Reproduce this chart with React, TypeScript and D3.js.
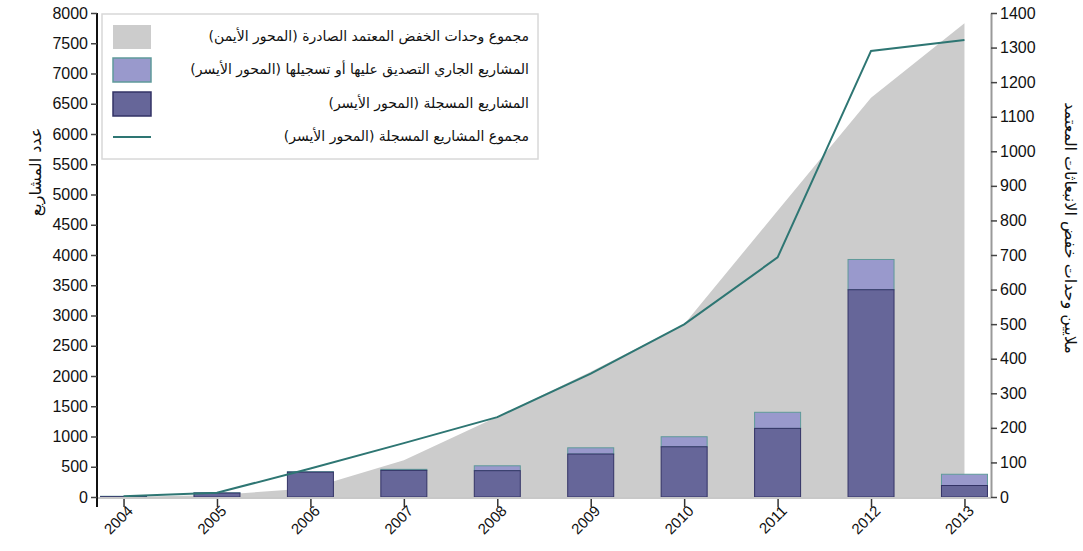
import * as d3 from "d3";
import React, { useEffect, useRef } from "react";

// years on the x axis
const years = ["2004", "2005", "2006", "2007", "2008", "2009", "2010", "2011", "2012", "2013"];
// registered projects per year (left axis)
const registered = [5, 65, 410, 440, 435, 710, 830, 1134, 3426, 190];
// projects under validation / registration (left axis, stacked on top)
const pending = [7, 5, 10, 17, 81, 103, 166, 266, 500, 186];
// cumulative registered projects (left axis)
const cumulative = [12, 70, 470, 890, 1320, 2040, 2854, 3960, 7373, 7555];
// cumulative CERs issued, millions (right axis)
const cersIssued = [0, 6, 25, 106, 232, 362, 500, 828, 1155, 1370];

const leftTicks = d3.range(0, 8001, 500);
const rightTicks = d3.range(0, 1401, 100);

const legendLabels = [
  "مجموع وحدات الخفض المعتمد الصادرة (المحور الأيمن)",
  "المشاريع الجاري التصديق عليها أو تسجيلها (المحور الأيسر)",
  "المشاريع المسجلة (المحور الأيسر)",
  "مجموع المشاريع المسجلة (المحور الأيسر)",
];
const leftTitle = "عدد المشاريع";
const rightTitle = "ملايين وحدات خفض الانبعاثات المعتمد";

const App: React.FC = () => {
  const chartRef = useRef<HTMLDivElement>(null);

  useEffect(() => {
    if (!chartRef.current) return;
    d3.select(chartRef.current).selectAll("*").remove();

    const width = 1083,
      height = 551;
    const left = 97,
      right = 991,
      top = 13,
      bottom = 497;
    const numFont = "'Liberation Sans', Arial, sans-serif";
    const arFont = "'DejaVu Sans', sans-serif";

    const svg = d3
      .select(chartRef.current)
      .append("svg")
      .attr("width", width)
      .attr("height", height)
      .style("position", "absolute")
      .style("left", 0)
      .style("top", 0);

    const x = d3.scalePoint<string>().domain(years).range([left, right]).padding(0.284);
    const yL = d3.scaleLinear().domain([0, 8000]).range([bottom, top]);
    const yR = d3.scaleLinear().domain([0, 1400]).range([bottom, top]);
    const barW = 46;

    // gray area: CERs issued (right axis)
    const area = d3
      .area<number>()
      .x((_, i) => x(years[i])!)
      .y0(yR(0))
      .y1((d) => yR(d));
    svg.append("path").datum(cersIssued).attr("d", area).attr("fill", "#cccccc");

    // stacked bars
    const bars = svg
      .append("g")
      .selectAll("g")
      .data(years)
      .enter()
      .append("g")
      .attr("transform", (d) => `translate(${x(d)! - barW / 2},0)`);

    bars
      .append("rect")
      .attr("x", 0)
      .attr("width", barW)
      .attr("y", (_, i) => yL(registered[i] + pending[i]))
      .attr("height", (_, i) => yL(registered[i]) - yL(registered[i] + pending[i]))
      .attr("fill", "#9999cc")
      .attr("stroke", "#5f9a9a")
      .attr("stroke-width", 1);

    bars
      .append("rect")
      .attr("x", 0)
      .attr("width", barW)
      .attr("y", (_, i) => yL(registered[i]))
      .attr("height", (_, i) => yL(0) - yL(registered[i]))
      .attr("fill", "#666699")
      .attr("stroke", "#333366")
      .attr("stroke-width", 1);

    // cumulative line
    const line = d3
      .line<number>()
      .x((_, i) => x(years[i])!)
      .y((d) => yL(d));
    svg
      .append("path")
      .datum(cumulative)
      .attr("d", line)
      .attr("fill", "none")
      .attr("stroke", "#2e7673")
      .attr("stroke-width", 2);

    // x axis
    svg
      .append("line")
      .attr("x1", left)
      .attr("x2", right)
      .attr("y1", bottom + 1)
      .attr("y2", bottom + 1)
      .attr("stroke", "#c8c8c8")
      .attr("stroke-width", 2);
    const xAxis = svg
      .append("g")
      .attr("transform", `translate(0,${bottom + 2})`)
      .call(d3.axisBottom(x).tickSize(8));
    xAxis.select(".domain").remove();
    xAxis.selectAll(".tick line").attr("stroke", "#333").attr("stroke-width", 1.5);
    xAxis
      .selectAll(".tick text")
      .attr("font-family", numFont)
      .attr("font-size", 15)
      .attr("fill", "#111")
      .attr("text-anchor", "end")
      .attr("transform", "rotate(-45)")
      .attr("dx", 0)
      .attr("dy", "0.6em")
      .attr("y", 7)
      .attr("x", -2);

    // left axis
    const yAxisL = svg
      .append("g")
      .attr("transform", `translate(${left},0)`)
      .call(
        d3
          .axisLeft(yL)
          .tickValues(leftTicks)
          .tickFormat(d3.format("d"))
          .tickSize(6)
          .tickPadding(3)
          .tickSizeOuter(0)
      );
    yAxisL.select(".domain").attr("stroke", "#111").attr("stroke-width", 2).attr("d", `M0,${top}V${bottom + 10}`);
    yAxisL.selectAll(".tick line").attr("stroke", "#444").attr("stroke-width", 1.5);
    yAxisL
      .selectAll(".tick text")
      .attr("font-family", numFont)
      .attr("font-size", 16)
      .attr("fill", "#111");

    // right axis
    const yAxisR = svg
      .append("g")
      .attr("transform", `translate(${right},0)`)
      .call(
        d3
          .axisRight(yR)
          .tickValues(rightTicks)
          .tickFormat(d3.format("d"))
          .tickSize(6)
          .tickPadding(3)
          .tickSizeOuter(0)
      );
    yAxisR.select(".domain").attr("stroke", "#999").attr("stroke-width", 2);
    yAxisR.selectAll(".tick line").attr("stroke", "#444").attr("stroke-width", 1.5);
    yAxisR
      .selectAll(".tick text")
      .attr("font-family", numFont)
      .attr("font-size", 16)
      .attr("fill", "#111");

    // axis titles
    svg
      .append("text")
      .attr("transform", `translate(36,172) rotate(-90)`)
      .attr("text-anchor", "middle")
      .attr("dominant-baseline", "middle")
      .attr("font-family", arFont)
      .attr("font-size", 16)
      .attr("fill", "#111")
      .text(leftTitle);
    svg
      .append("text")
      .attr("transform", `translate(1069,228) rotate(90)`)
      .attr("text-anchor", "middle")
      .attr("dominant-baseline", "middle")
      .attr("font-family", arFont)
      .attr("font-size", 16)
      .attr("fill", "#111")
      .text(rightTitle);

    // legend
    const lg = svg.append("g");
    lg.append("rect")
      .attr("x", 102)
      .attr("y", 14)
      .attr("width", 436)
      .attr("height", 145)
      .attr("fill", "#fff")
      .attr("stroke", "#d8d8d8")
      .attr("stroke-width", 1.5);
    const rowY = [37, 70, 104, 137];
    const swatchFill = ["#cccccc", "#9999cc", "#666699"];
    const swatchStroke = ["none", "#5f9a9a", "#333366"];
    swatchFill.forEach((f, i) => {
      lg.append("rect")
        .attr("x", 113)
        .attr("y", rowY[i] - 12)
        .attr("width", 38)
        .attr("height", 24)
        .attr("fill", f)
        .attr("stroke", swatchStroke[i])
        .attr("stroke-width", 1.5);
    });
    lg.append("line")
      .attr("x1", 113)
      .attr("x2", 151)
      .attr("y1", rowY[3])
      .attr("y2", rowY[3])
      .attr("stroke", "#2e7673")
      .attr("stroke-width", 2);
    legendLabels.forEach((t, i) => {
      lg.append("text")
        .attr("x", 529)
        .attr("y", rowY[i])
        .attr("text-anchor", "start")
        .attr("direction", "rtl")
        .attr("dominant-baseline", "middle")
        .attr("font-family", arFont)
        .attr("font-size", 14)
        .attr("fill", "#111")
        .text(t);
    });
  }, []);

  return <div ref={chartRef}></div>;
};

export default App;
